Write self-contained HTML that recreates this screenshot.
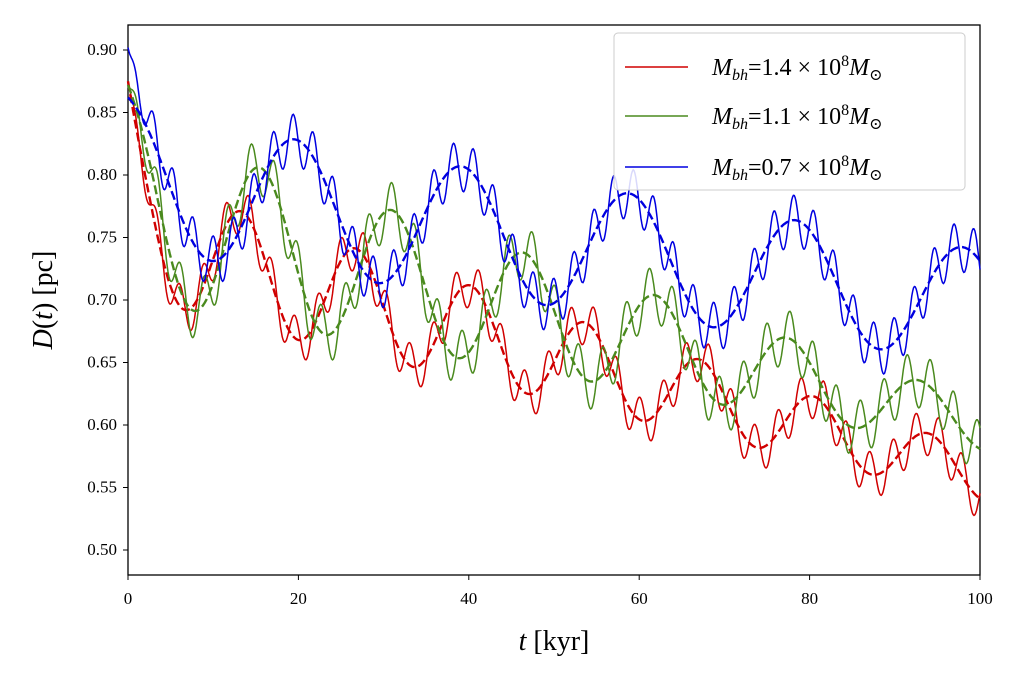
<!DOCTYPE html>
<html><head><meta charset="utf-8"><style>
body{margin:0;background:#fff}
svg text{font-family:"Liberation Serif","DejaVu Serif",serif;fill:#000}
</style></head><body>
<svg id="s" width="1024" height="683" xmlns="http://www.w3.org/2000/svg">
<rect x="128" y="25" width="852" height="550" fill="none" stroke="#000" stroke-width="1.3"/>
<g id="ticks" font-size="17"></g>
<g id="curves" fill="none"></g>
<text x="554" y="650" font-size="28" text-anchor="middle"><tspan font-style="italic">t</tspan> [kyr]</text>
<text transform="translate(52,300) rotate(-90)" font-size="28" text-anchor="middle"><tspan font-style="italic">D</tspan>(<tspan font-style="italic">t</tspan>) [pc]</text>
<rect x="614" y="33" width="351" height="157" rx="4" fill="#fff" fill-opacity="0.85" stroke="#ccc"/>
<line x1="625" y1="67" x2="688" y2="67" stroke="#d00000" stroke-width="1.5"/>
<line x1="625" y1="116" x2="688" y2="116" stroke="#4a8a1e" stroke-width="1.5"/>
<line x1="625" y1="167" x2="688" y2="167" stroke="#0000e0" stroke-width="1.5"/>
<g font-size="24">
<text x="712" y="75"><tspan font-style="italic">M</tspan><tspan font-size="16" dy="5" font-style="italic">bh</tspan><tspan dy="-5">=1.4 × 10</tspan><tspan font-size="16" dy="-9">8</tspan><tspan dy="9" font-style="italic">M</tspan><tspan font-size="16" dy="5">⊙</tspan></text>
<text x="712" y="124"><tspan font-style="italic">M</tspan><tspan font-size="16" dy="5" font-style="italic">bh</tspan><tspan dy="-5">=1.1 × 10</tspan><tspan font-size="16" dy="-9">8</tspan><tspan dy="9" font-style="italic">M</tspan><tspan font-size="16" dy="5">⊙</tspan></text>
<text x="712" y="175"><tspan font-style="italic">M</tspan><tspan font-size="16" dy="5" font-style="italic">bh</tspan><tspan dy="-5">=0.7 × 10</tspan><tspan font-size="16" dy="-9">8</tspan><tspan dy="9" font-style="italic">M</tspan><tspan font-size="16" dy="5">⊙</tspan></text>
</g>
</svg>
<script>
function X(t){return 128+t*8.52}
function Y(v){return 50+(0.9-v)*1250}
var tk=document.getElementById("ticks"),h="";
for(var i=0;i<=8;i++){var v=0.5+i*0.05,y=Y(v);h+='<line x1="123" x2="128" y1="'+y+'" y2="'+y+'" stroke="#000"/><text x="117" y="'+(y+5)+'" text-anchor="end">'+v.toFixed(2)+'</text>';}
for(var i=0;i<=5;i++){var x=X(i*20);h+='<line x1="'+x+'" x2="'+x+'" y1="575" y2="580" stroke="#000"/><text x="'+x+'" y="604" text-anchor="middle">'+(i*20)+'</text>';}
tk.innerHTML=h;
var S=[
{c:"#d00000",m0:0.75,m1:-0.0019,a0:0.05,a1:-0.0003,P:13.45,tp:13.3,st:0.875,fa:0.018,fp:2.7},
{c:"#4a8a1e",m0:0.77,m1:-0.0017,a0:0.07,a1:-0.0005,P:15.5,tp:15.5,st:0.872,fa:0.022,fp:2.75},
{c:"#0000e0",m0:0.795,m1:-0.001,a0:0.055,a1:-0.0001,P:19.6,tp:19.6,st:0.862,fa:0.02,fp:2.35}];
var g=document.getElementById("curves"),o="";
S.forEach(function(s,k){
 function base(t){return s.m0+s.m1*t+(s.a0+s.a1*t)*Math.cos(2*Math.PI*(t-s.tp)/s.P)}
 var b0=base(0),d="",e="";
 for(var t=0;t<=100;t+=0.1){
  var b=base(t)+(s.st-b0)*Math.exp(-t/2);
  var f=b+s.fa*Math.sin(2*Math.PI*t/s.fp)*(1-Math.exp(-t/1.5))+(k==2?0.04*Math.exp(-t/1.5):0);
  d+=(t==0?"M":"L")+X(t).toFixed(1)+","+Y(b).toFixed(1);
  e+=(t==0?"M":"L")+X(t).toFixed(1)+","+Y(f).toFixed(1);
 }
 o+='<path d="'+e+'" stroke="'+s.c+'" stroke-width="1.5"/><path d="'+d+'" stroke="'+s.c+'" stroke-width="2.4" stroke-dasharray="9,4"/>';
});
g.innerHTML=o;
</script>
</body></html>
